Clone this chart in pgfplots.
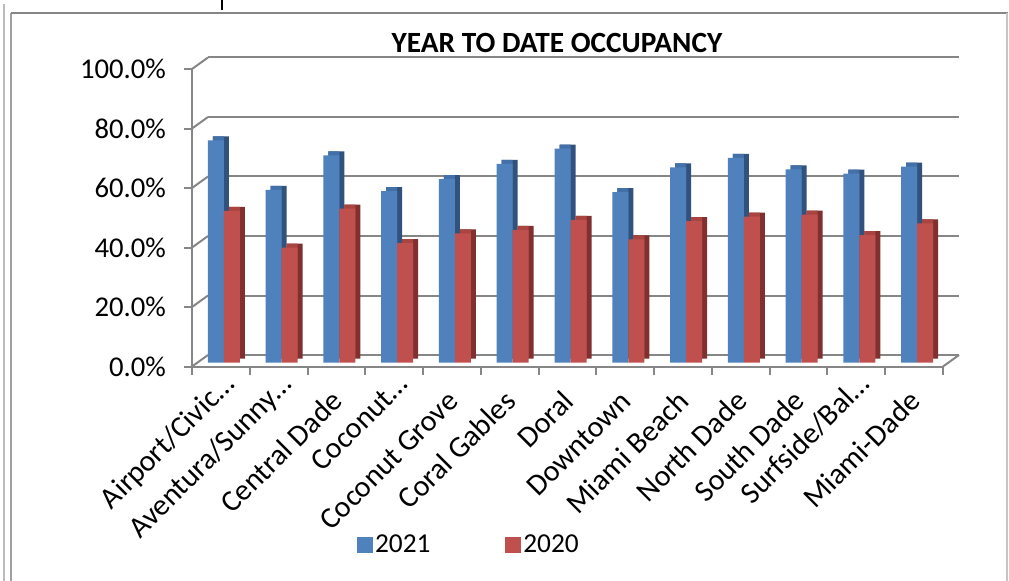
\documentclass[border=0pt]{standalone}
\usepackage{fontspec}
\setmainfont{Carlito}
\usepackage{pgfplots}
\usepackage{pgfplotstable}
\pgfplotsset{compat=1.18}

\definecolor{bluefront}{RGB}{79,129,189}
\definecolor{blueside}{RGB}{50,82,126}
\definecolor{bluetop}{RGB}{68,112,170}
\definecolor{redfront}{RGB}{192,80,77}
\definecolor{redside}{RGB}{128,48,46}
\definecolor{redtop}{RGB}{170,68,65}
\definecolor{gridgray}{RGB}{134,134,134}
\definecolor{framegray}{RGB}{160,160,160}

% year to date occupancy, percent
\pgfplotstableread{
idx y2021 y2020
0  74.7 51.0
1  58.0 38.6
2  69.6 51.7
3  57.6 40.1
4  61.6 43.4
5  66.8 44.6
6  71.9 47.9
7  57.3 41.4
8  65.6 47.5
9  68.8 49.0
10 64.9 49.7
11 63.5 42.8
12 65.8 46.8
}\occ

% truncated names run a bit further out, as in the source
\newcommand{\cut}[1]{\raisebox{5.25pt}{#1\hspace{-12.75pt}}}

\begin{document}
\begin{tikzpicture}
\begin{scope}[x=0.75pt,y=-0.75pt]
  \useasboundingbox (0,0) rectangle (1009,581);
  \draw[framegray!70, line width=1.5pt] (4,4) -- (4,581);
  \draw[framegray, line width=1.5pt] (11,13) -- (11,581);
  \draw[gridgray, line width=1.6pt] (11,13) -- (1008,13);
  \draw[framegray!60, line width=1pt] (1007,13) -- (1007,581);
  \draw[black, line width=1.5pt] (222,0) -- (222,10);
  \node[font=\bfseries\fontsize{22}{26}\selectfont] at (557,43) {YEAR TO DATE OCCUPANCY};
\end{scope}

% back wall and floor back edge
\begin{axis}[
  at={(156pt,-266.25pt)}, anchor=south west,
  scale only axis, width=563.25pt, height=223.125pt,
  xmin=-0.5, xmax=12.5, ymin=0, ymax=100,
  axis line style={draw=none},
  xtick=\empty, ytick={0,20,...,100}, yticklabels={},
  major tick length=0pt,
  ymajorgrids, major grid style={draw=gridgray, line width=1.5pt},
]
\end{axis}

% front frame, ticks, labels, legend
\begin{axis}[
  at={(144pt,-274.875pt)}, anchor=south west,
  scale only axis, width=563.25pt, height=223.125pt,
  xmin=-0.5, xmax=12.5, ymin=0, ymax=100,
  axis x line*=bottom, axis y line*=left,
  axis line style={draw=gridgray, line width=1.5pt},
  xtick={-0.5,0.5,...,12.5}, x tick label as interval,
  xticklabels={\cut{Airport/Civic…}, \cut{Aventura/Sunny…}, Central Dade, \cut{Coconut…}, Coconut Grove, Coral Gables, Doral, Downtown, Miami Beach, North Dade, South Dade, \cut{Surfside/Bal…}, Miami-Dade},
  ytick={0,20,...,100},
  yticklabels={0.0\%,20.0\%,40.0\%,60.0\%,80.0\%,100.0\%},
  tick align=outside, major tick length=6pt,
  tick style={draw=gridgray, line width=1.5pt},
  ticklabel style={text=black},
  yticklabel style={font=\fontsize{21.5}{26}\selectfont, xshift=-10pt},
  xticklabel style={font=\fontsize{22.5}{26}\selectfont, inner sep=0pt,
    anchor=base east, xshift=6pt, yshift=-21.4pt, rotate=45},
  legend columns=2,
  legend style={draw=none, fill=none, at={(axis description cs:0.369,-0.6)}, anchor=center,
    font=\fontsize{20.5}{24}\selectfont,
    /tikz/every even column/.append style={column sep=54pt}},
  clip=false,
]
\pgfplotsinvokeforeach{0,20,40,60,80,100}{
  \draw[gridgray, line width=1.5pt] (axis cs:-0.5,#1) -- ++(12pt,8.625pt);
}
\draw[gridgray, line width=1.5pt] (axis cs:12.5,0) -- ++(12pt,8.625pt);
\addlegendimage{legend image code/.code={\fill[bluefront] (-2pt,-5.6pt) rectangle (9.25pt,5.6pt);}}
\addlegendentry{2021}
\addlegendimage{legend image code/.code={\fill[redfront] (-2pt,-5.6pt) rectangle (9.25pt,5.6pt);}}
\addlegendentry{2020}
\end{axis}

% bars with a simple depth effect
\begin{axis}[
  at={(146.25pt,-271.875pt)}, anchor=south west,
  scale only axis, width=563.25pt, height=223.125pt,
  xmin=-0.5, xmax=12.5, ymin=0, ymax=100,
  hide axis, clip=false,
]
\addplot[ybar, bar width=12pt, bar shift=-2.25pt, yshift=3pt, fill=blueside, draw=none] table[x=idx,y=y2021]{\occ};
\addplot[ybar, bar width=8.25pt, bar shift=-4.125pt, yshift=3pt, fill=bluetop, draw=none] table[x=idx,y=y2021]{\occ};
\addplot[ybar, bar width=12pt, bar shift=-6pt, fill=bluefront, draw=none] table[x=idx,y=y2021]{\occ};
\addplot[ybar, bar width=12pt, bar shift=9.75pt, yshift=3pt, fill=redside, draw=none] table[x=idx,y=y2020]{\occ};
\addplot[ybar, bar width=8.25pt, bar shift=7.875pt, yshift=3pt, fill=redtop, draw=none] table[x=idx,y=y2020]{\occ};
\addplot[ybar, bar width=12pt, bar shift=6pt, fill=redfront, draw=none] table[x=idx,y=y2020]{\occ};
\end{axis}
\end{tikzpicture}
\end{document}
